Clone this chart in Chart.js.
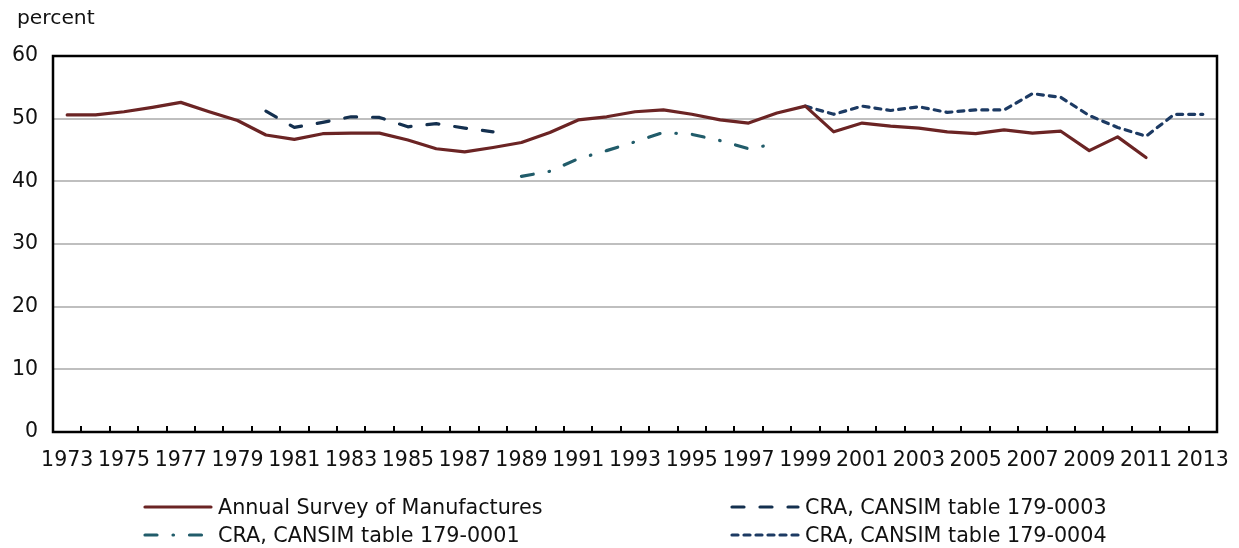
<!DOCTYPE html>
<html>
<head>
<meta charset="utf-8">
<script src="https://cdn.jsdelivr.net/npm/chart.js@4"></script>
<style>
  body { margin: 0; background: #fff; font-family: "DejaVu Sans", Verdana, sans-serif; }
  #wrap { position: relative; width: 1239px; height: 548px; }
  #unit { position: absolute; left: 17px; top: 5px; font-size: 20.3px; color: #111; }
  .leg { position: absolute; font-size: 20.7px; color: #111; display: flex; align-items: center; white-space: nowrap; }
  .leg svg { margin-right: 5px; }
</style>
</head>
<body>
<div id="wrap">
  <canvas id="chart" width="1239" height="548"></canvas>
  <div id="unit">percent</div>
  <div id="legend"></div>
</div>
<script>
// Years on the category axis
const years = ['1973','1974','1975','1976','1977','1978','1979','1980','1981','1982',
  '1983','1984','1985','1986','1987','1988','1989','1990','1991','1992',
  '1993','1994','1995','1996','1997','1998','1999','2000','2001','2002',
  '2003','2004','2005','2006','2007','2008','2009','2010','2011','2012','2013'];

// Annual Survey of Manufactures, 1973-2011
const asmValues = [50.6, 50.6, 51.1, 51.8, 52.6, 51.1, 49.7, 47.4, 46.7, 47.6,
  47.7, 47.7, 46.6, 45.2, 44.7, 45.4, 46.2, 47.8, 49.8, 50.3,
  51.1, 51.4, 50.7, 49.8, 49.3, 50.9, 52.0, 47.9, 49.3, 48.8,
  48.5, 47.9, 47.6, 48.2, 47.7, 48.0, 44.9, 47.1, 43.8, null, null];

// CRA, CANSIM table 179-0003, 1980-1988
const cra0003Values = [null, null, null, null, null, null, null, 51.2, 48.6, 49.4,
  50.3, 50.2, 48.7, 49.2, 48.5, 47.9, null, null, null, null,
  null, null, null, null, null, null, null, null, null, null,
  null, null, null, null, null, null, null, null, null, null, null];

// CRA, CANSIM table 179-0001, 1989-1998
const cra0001Values = [null, null, null, null, null, null, null, null, null, null,
  null, null, null, null, null, null, 40.8, 41.6, 43.6, 44.9,
  46.3, 47.8, 47.5, 46.5, 45.2, 46.0, null, null, null, null,
  null, null, null, null, null, null, null, null, null, null, null];

// CRA, CANSIM table 179-0004, 1999-2013
const cra0004Values = [null, null, null, null, null, null, null, null, null, null,
  null, null, null, null, null, null, null, null, null, null,
  null, null, null, null, null, null, 52.0, 50.7, 52.0, 51.3,
  51.9, 51.0, 51.4, 51.4, 54.0, 53.4, 50.5, 48.6, 47.2, 50.7, 50.7];

const yTicks = [0, 10, 20, 30, 40, 50, 60];

const series = [
  { label: 'Annual Survey of Manufactures', data: asmValues, color: '#6B2424', dash: [] },
  { label: 'CRA, CANSIM table 179-0003', data: cra0003Values, color: '#14304F', dash: [12, 16] },
  { label: 'CRA, CANSIM table 179-0001', data: cra0001Values, color: '#215C6A', dash: [12, 16, 0.5, 16] },
  { label: 'CRA, CANSIM table 179-0004', data: cra0004Values, color: '#1C3A63', dash: [6, 6] }
];

// Frame around the plot area plus the short inner tick marks on the x axis
const framePlugin = {
  id: 'frame',
  afterDatasetsDraw(chart) {
    const { ctx, chartArea: a } = chart;
    const x = chart.scales.x;
    ctx.save();
    ctx.strokeStyle = '#000';
    ctx.lineWidth = 2.5;
    ctx.strokeRect(a.left, a.top, a.right - a.left, a.bottom - a.top);
    ctx.lineWidth = 2;
    const half = (x.getPixelForValue(1) - x.getPixelForValue(0)) / 2;
    for (let i = 1; i < years.length; i++) {
      const px = Math.round(x.getPixelForValue(i) - half);
      ctx.beginPath();
      ctx.moveTo(px, a.bottom);
      ctx.lineTo(px, a.bottom - 6);
      ctx.stroke();
    }
    ctx.restore();
  }
};

const ctx = document.getElementById('chart').getContext('2d');
const chart = new Chart(ctx, {
  type: 'line',
  data: {
    labels: years,
    datasets: series.map(s => ({
      label: s.label,
      data: s.data,
      borderColor: s.color,
      backgroundColor: s.color,
      borderWidth: 3.2,
      borderDash: s.dash,
      borderCapStyle: 'round',
      borderJoinStyle: 'round',
      pointRadius: 0,
      tension: 0,
      spanGaps: false
    }))
  },
  options: {
    responsive: false,
    animation: false,
    layout: { padding: { top: 56, right: 22, left: 0, bottom: 0 } },
    plugins: { legend: { display: false }, tooltip: { enabled: false } },
    scales: {
      x: {
        offset: true,
        grid: { display: false, drawTicks: false },
        border: { display: false },
        afterFit(scale) {
          scale.height = 116;
          scale.paddingLeft = 0;
          scale.paddingRight = 0;
        },
        ticks: {
          autoSkip: false,
          maxRotation: 0,
          padding: 16,
          color: '#111',
          font: { family: 'DejaVu Sans', size: 20.5 },
          callback(value, index) { return index % 2 === 0 ? years[index] : ''; }
        }
      },
      y: {
        min: 0,
        max: 60,
        afterBuildTicks(scale) { scale.ticks = yTicks.map(v => ({ value: v })); },
        afterFit(scale) { scale.width = 53; },
        grid: { color: '#BFBFBF', lineWidth: 2, drawTicks: false },
        border: { display: false },
        ticks: {
          padding: 15,
          color: '#111',
          font: { family: 'DejaVu Sans', size: 20.5 }
        }
      }
    }
  },
  plugins: [framePlugin]
});

// HTML legend in two columns, built from the datasets
const legendPos = [
  { left: 143, top: 495 }, { left: 730, top: 495 },
  { left: 143, top: 523 }, { left: 730, top: 523 }
];
const legendEl = document.getElementById('legend');
series.forEach((s, k) => {
  const item = document.createElement('div');
  item.className = 'leg';
  item.style.left = legendPos[k].left + 'px';
  item.style.top = legendPos[k].top + 'px';
  const dash = s.dash.length ? s.dash.join(' ') : 'none';
  item.innerHTML = '<svg width="70" height="10"><line x1="2" y1="5" x2="68" y2="5" stroke="' + s.color +
    '" stroke-width="3.2" stroke-linecap="round" stroke-dasharray="' + dash + '"/></svg><span>' + s.label + '</span>';
  legendEl.appendChild(item);
});
</script>
</body>
</html>
